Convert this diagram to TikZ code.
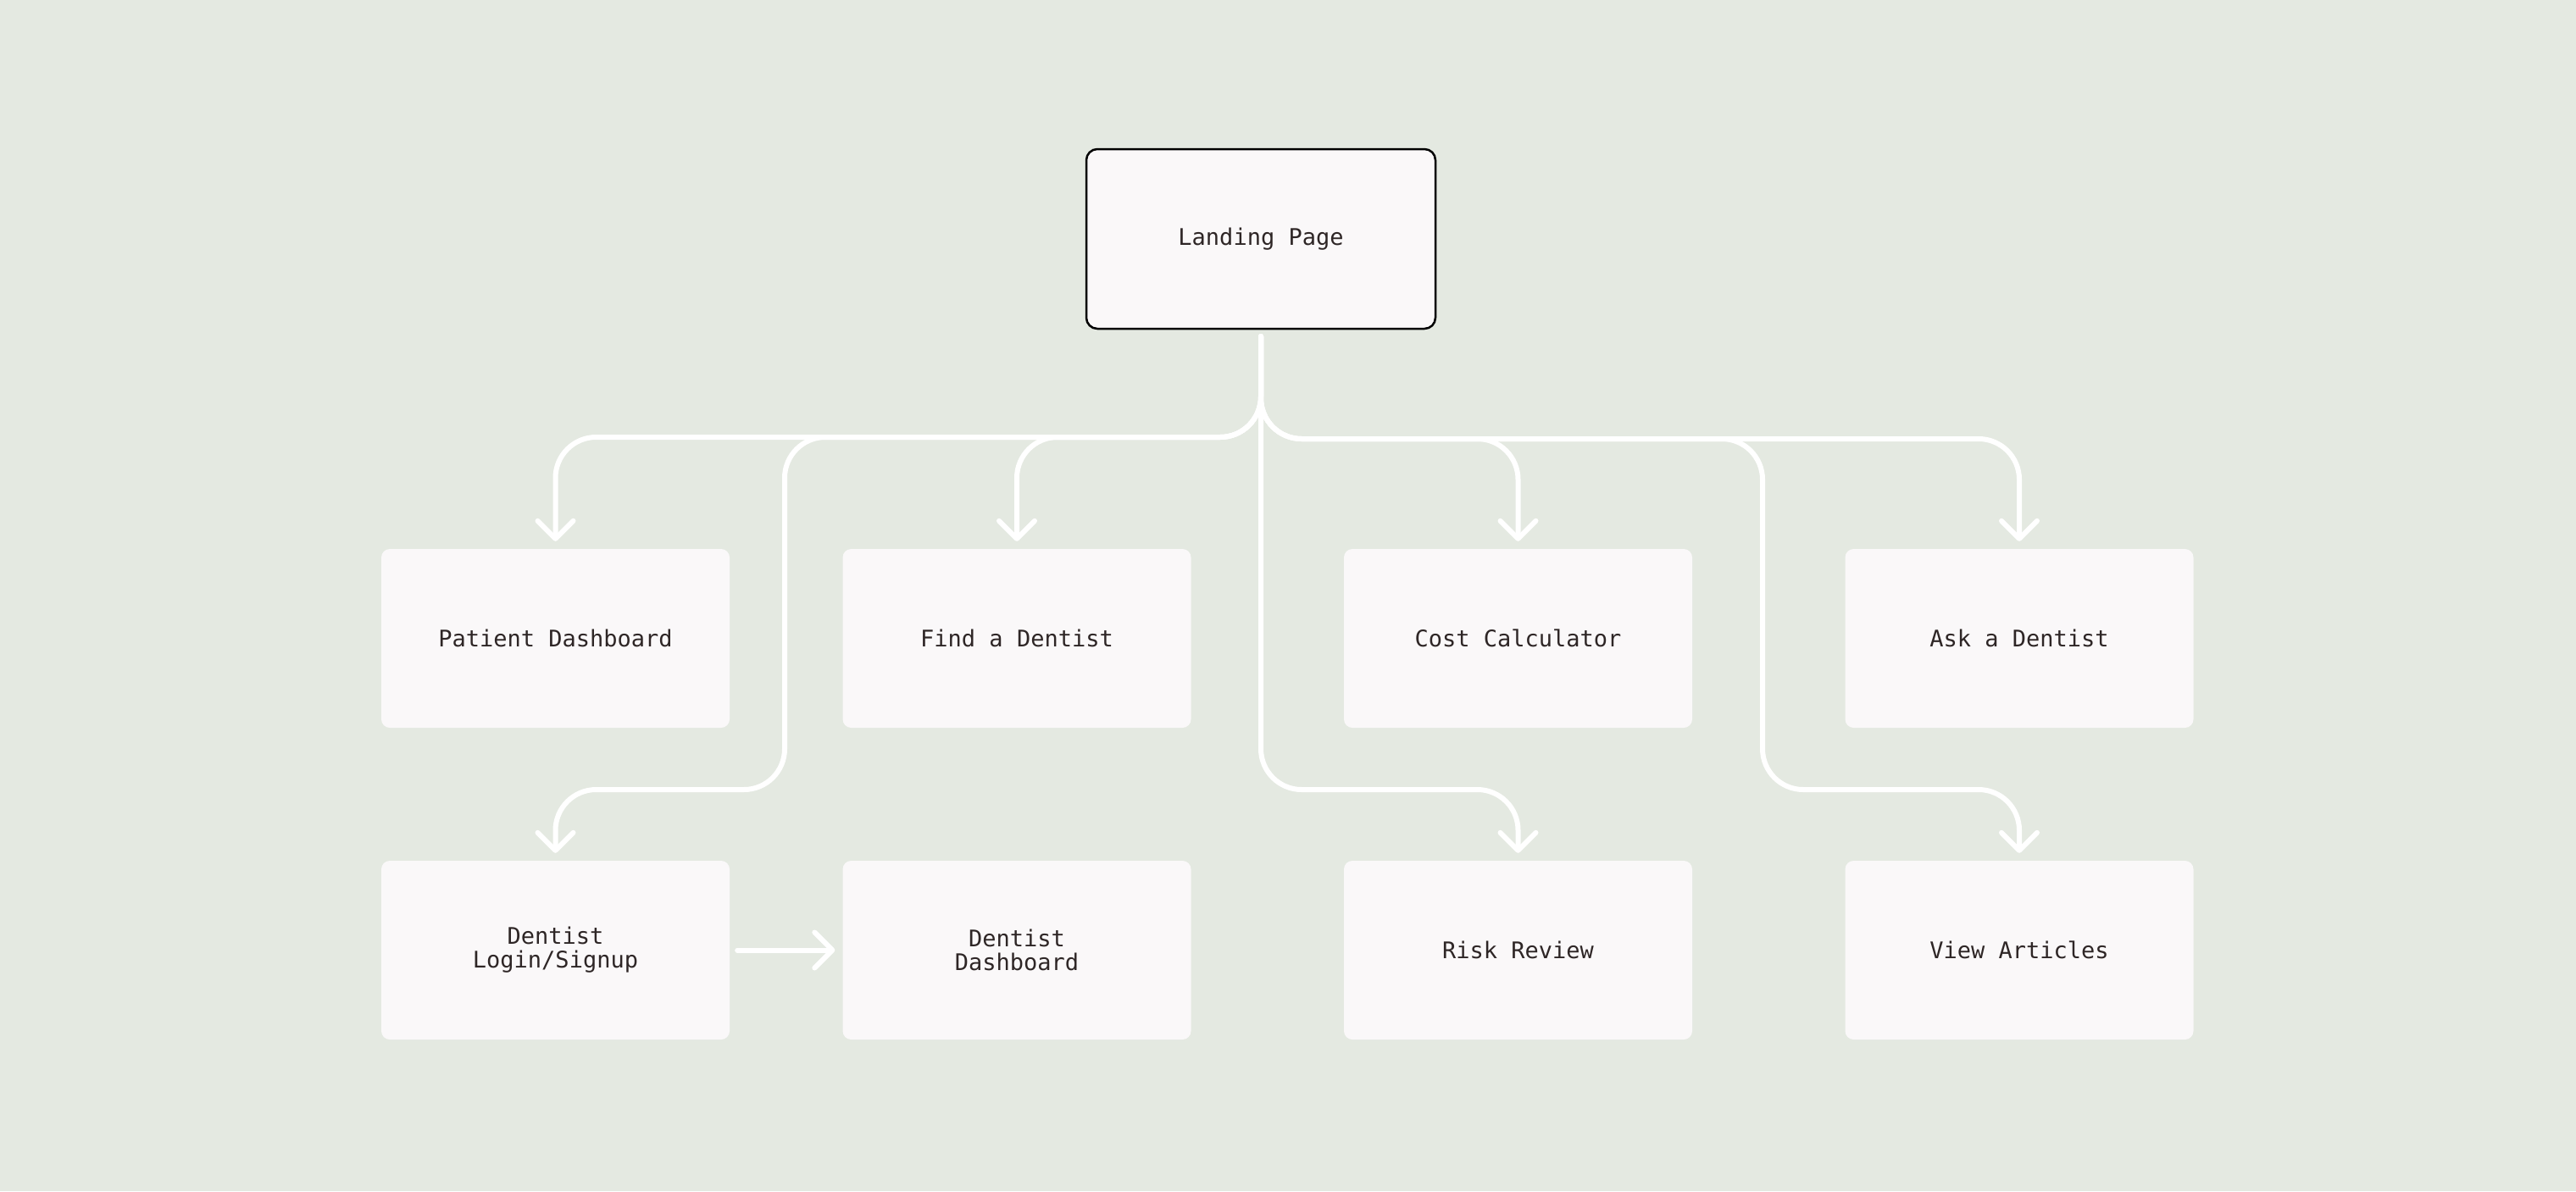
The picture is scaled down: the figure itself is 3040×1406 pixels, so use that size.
\documentclass[tikz,border=0pt]{standalone}
\usepackage{fontspec}
\setmonofont{DejaVu Sans Mono}
\usetikzlibrary{arrows.meta}
\definecolor{bg}{HTML}{E4E9E1}
\definecolor{boxfill}{HTML}{FAF8F9}
\definecolor{txt}{HTML}{2E2626}
\tikzset{
  card/.style={fill=boxfill, rounded corners=10pt, minimum width=411pt, minimum height=211pt,
    inner sep=0pt, align=center, text=txt, font=\ttfamily\fontsize{27}{28}\selectfont},
  landingbox/.style={card, draw=black, line width=2.5pt, rounded corners=13pt,
    minimum width=412pt, minimum height=212pt},
  edge/.style={draw=white, line width=6pt, rounded corners=48pt, line cap=round,
    -{Straight Barb[length=21pt,width=42pt,line cap=round,line join=round]}},
}
\begin{document}
\begin{tikzpicture}[x=1pt,y=-1pt]
\useasboundingbox (0,0) rectangle (3040,1406);
\fill[bg] (0,0) rectangle (3040,1406);

\node[landingbox] (lp) at (1488,282) {Landing Page};

\node[card] (pd) at (655.5,753.5) {Patient Dashboard};
\node[card] (fd) at (1200,753.5) {Find a Dentist};
\node[card] (cc) at (1791.5,753.5) {Cost Calculator};
\node[card] (ad) at (2383,753.5) {Ask a Dentist};

\node[card] (dl) at (655.5,1121.5) {Dentist\\Login/Signup};
\node[card] (dd) at (1200,1121.5) {Dentist\\Dashboard};
\node[card] (rr) at (1791.5,1121.5) {Risk Review};
\node[card] (va) at (2383,1121.5) {View Articles};

\coordinate (stem) at (1488,397);
\coordinate (hl) at (0,516);
\coordinate (hr) at (0,518);
\coordinate (h2) at (0,932);
\coordinate (vx1) at (926,0);
\coordinate (vx2) at (2080,0);

\draw[edge] (stem) |- (hl -| pd.north) -- ([yshift=9pt]pd.north);
\draw[edge] (stem) |- (hl -| fd.north) -- ([yshift=9pt]fd.north);
\draw[edge] (stem) |- (hr -| cc.north) -- ([yshift=9pt]cc.north);
\draw[edge] (stem) |- (hr -| ad.north) -- ([yshift=9pt]ad.north);
\draw[edge] (stem) |- (hl -| vx1) -- (h2 -| vx1) -| ([yshift=9pt]dl.north);
\draw[edge] (stem) -- (h2 -| stem) -| ([yshift=9pt]rr.north);
\draw[edge] (stem) |- (hr -| vx2) -- (h2 -| vx2) -| ([yshift=9pt]va.north);
\draw[edge] ([xshift=9pt]dl.east) -- ([xshift=-9pt]dd.west);
\end{tikzpicture}
\end{document}
